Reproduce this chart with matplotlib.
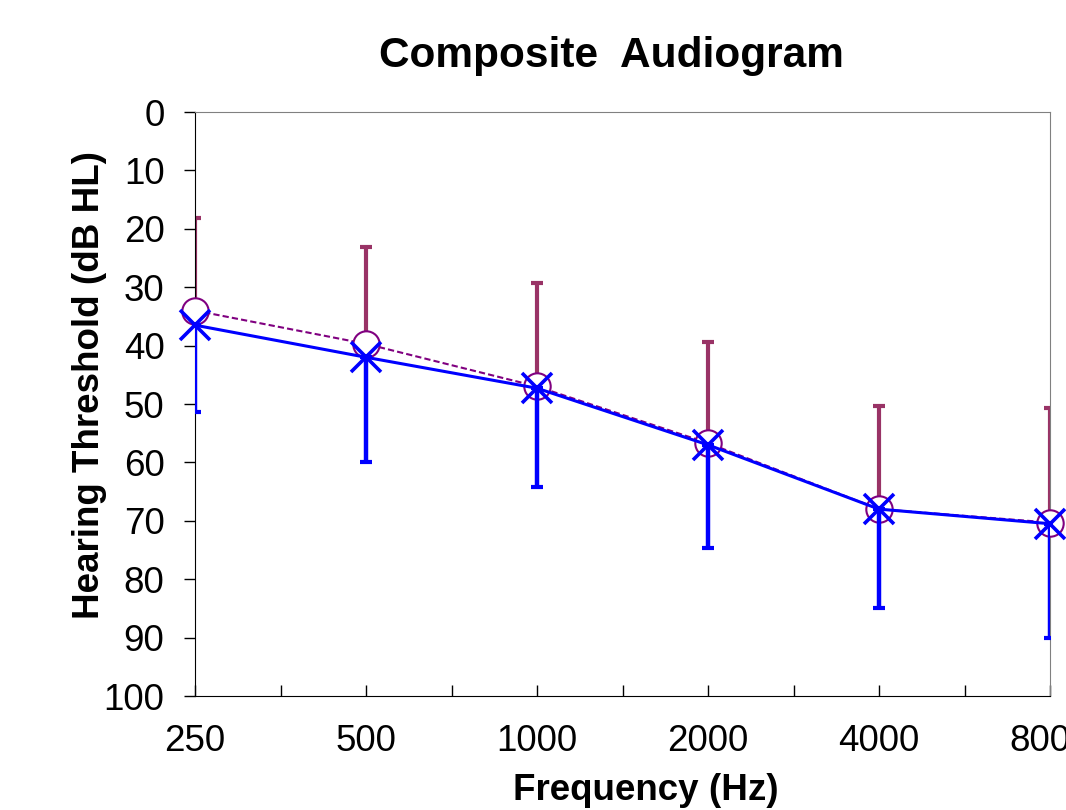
import numpy as np
import matplotlib.pyplot as plt
from matplotlib.ticker import FixedLocator

freqs = ["250", "500", "1000", "2000", "4000", "8000"]
circle_vals = [34, 39.7, 47, 56.7, 68, 70.3]
circle_up = [15.8, 16.6, 17.8, 17.4, 17.7, 19.6]
cross_vals = [36.5, 42, 47.3, 57, 68, 70.5]
cross_down = [14.8, 18, 16.9, 17.7, 16.9, 19.5]
yticks = [0, 10, 20, 30, 40, 50, 60, 70, 80, 90, 100]

plt.rcParams['font.family'] = ['Liberation Sans', 'DejaVu Sans']

W, H = 1066, 810
fig = plt.figure(figsize=(W / 100, H / 100), dpi=100)
ax = fig.add_axes([195 / W, 114 / H, 855 / W, 584 / H])

x = np.arange(len(freqs))
zeros = np.zeros(len(freqs))

# y axis is inverted: "lower" error means towards smaller dB values (upwards)
ax.errorbar(x, circle_vals, yerr=[circle_up, zeros], fmt="none",
            ecolor="#993366", elinewidth=3, capsize=4.5, capthick=3, zorder=2)
ax.plot(x, circle_vals, color="#800080", lw=1.5, ls=(0, (3, 1.5)),
        marker="o", ms=19, mfc="white", mec="#800080", mew=1.5,
        clip_on=False, zorder=3)
ax.errorbar(x, cross_vals, yerr=[zeros, cross_down], fmt="none",
            ecolor="#0000FF", elinewidth=3.2, capsize=4.5, capthick=3, zorder=4)
ax.plot(x, cross_vals, color="#0000FF", lw=2.2, marker="x", ms=21, mew=2.6,
        clip_on=False, zorder=5)

ax.set_xlim(0, len(freqs) - 1)
ax.set_ylim(100, 0)
ax.set_xticks(x)
ax.set_xticklabels(freqs)
ax.xaxis.set_minor_locator(FixedLocator(x[:-1] + 0.5))
ax.set_yticks(yticks)

ax.tick_params(axis="x", which="both", direction="in", length=8, width=1, labelsize=26.5, pad=20)
ax.tick_params(axis="y", direction="out", length=8, width=1, labelsize=26.5, pad=14)

for s in ["top", "right"]:
    ax.spines[s].set_color("#808080")
for s in ["left", "bottom"]:
    ax.spines[s].set_color("black")

fig.text(611 / W, 1 - 56 / H, "Composite  Audiogram", fontsize=30.5,
         fontweight="bold", ha="center", va="center")
fig.text(646 / W, 1 - 791 / H, "Frequency (Hz)", fontsize=26.5,
         fontweight="bold", ha="center", va="center")
fig.text(90 / W, 1 - 385 / H, "Hearing Threshold (dB HL)", fontsize=26.5,
         fontweight="bold", ha="center", va="center", rotation=90)

fig.savefig("out.png", dpi=100)
